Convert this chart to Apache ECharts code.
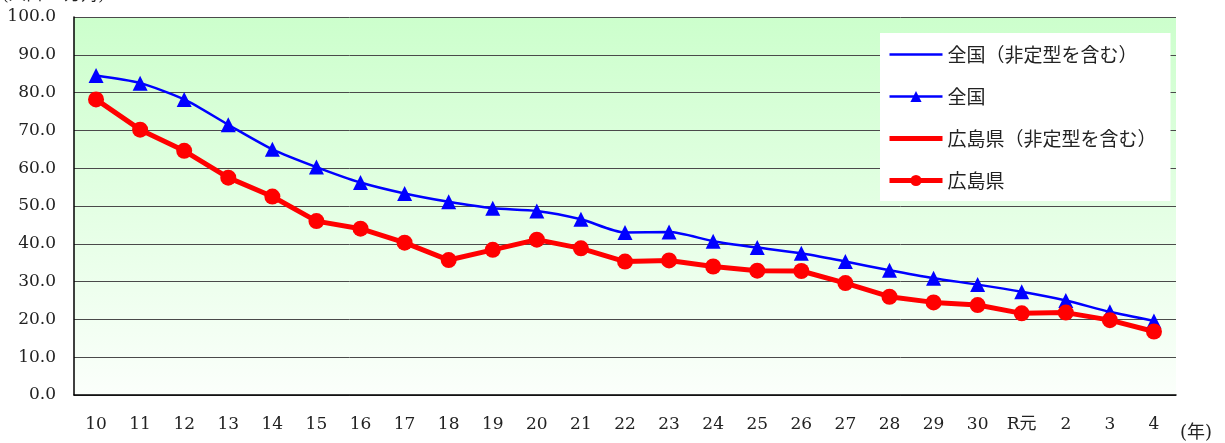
<!DOCTYPE html>
<html>
<head>
<meta charset="utf-8">
<script src="https://cdn.jsdelivr.net/npm/echarts@6/dist/echarts.min.js"></script>
<style>
  html, body { margin: 0; padding: 0; background: #fff; }
  #main { width: 1225px; height: 443px; }
</style>
</head>
<body>
<div id="main"></div>
<script>
  // 年 (平成10年〜令和4年)
  var years = ['10','11','12','13','14','15','16','17','18','19','20','21','22','23','24','25','26','27','28','29','30','R元','2','3','4'];
  var zenkoku = [84.5,82.5,78.2,71.5,65.0,60.3,56.2,53.3,51.1,49.4,48.7,46.5,43.0,43.1,40.7,39.0,37.5,35.3,33.0,30.9,29.2,27.3,25.0,22.0,19.6];
  var hiroshima = [78.2,70.2,64.6,57.5,52.5,46.0,44.0,40.3,35.7,38.4,41.1,38.8,35.3,35.6,34.0,32.9,32.8,29.6,26.0,24.5,23.8,21.6,21.8,19.8,16.8];
  // 非定型を含む系列は図中に線が見えないので空
  var zenkokuAll = [];
  var hiroshimaAll = [];

  var fontFam = '"DejaVu Serif", "Noto Sans CJK JP", serif';
  var myChart = echarts.init(document.getElementById('main'));
  var option = {
    animation: false,
    textStyle: { fontFamily: fontFam },
    graphic: [{
      type: 'text',
      left: 2,
      top: -13,
      style: { text: '(人口10万対)', fontSize: 17, fill: '#222', fontFamily: fontFam }
    }, {
      type: 'text',
      left: 1180,
      top: 424,
      style: { text: '(年)', fontSize: 18, fill: '#222', fontFamily: fontFam }
    }],
    grid: {
      left: 74, right: 49, top: 17, bottom: 48,
      show: true,
      borderWidth: 0,
      backgroundColor: new echarts.graphic.LinearGradient(0, 0, 0, 1, [
        { offset: 0, color: '#ccffcc' },
        { offset: 1, color: '#fbfffb' }
      ])
    },
    legend: {
      orient: 'vertical',
      left: 880,
      top: 33,
      backgroundColor: '#fff',
      padding: [12, 14, 11, 7],
      itemGap: 23,
      itemWidth: 53,
      itemHeight: 14,
      textStyle: { fontSize: 19, color: '#222', fontFamily: '"Noto Sans CJK JP", sans-serif' },
      data: [
        { name: '全国（非定型を含む）', icon: 'path://M0 0 H53 V2.5 H0 Z', itemStyle: { color: '#0000ff' } },
        { name: '全国', lineStyle: { width: 2.5 } },
        { name: '広島県（非定型を含む）', icon: 'path://M0 0 H53 V5 H0 Z', itemStyle: { color: '#ff0000' } },
        { name: '広島県', lineStyle: { width: 5 } }
      ]
    },
    xAxis: {
      type: 'category',
      data: years,
      boundaryGap: true,
      axisLine: { lineStyle: { color: '#000', width: 1.5 } },
      axisTick: { inside: true, length: 5, lineStyle: { color: '#000' } },
      axisLabel: { color: '#222', fontSize: 17, margin: 21, fontFamily: fontFam },
      splitLine: { show: false }
    },
    yAxis: {
      type: 'value',
      min: 0,
      max: 100,
      interval: 10,
      axisLine: { show: true, lineStyle: { color: '#000', width: 1.5 } },
      axisTick: { show: false },
      axisLabel: {
        color: '#222', fontSize: 17, margin: 18, fontFamily: fontFam,
        formatter: function (v) { return v.toFixed(1); }
      },
      splitLine: { show: true, lineStyle: { color: '#4a4a4a', width: 1 } }
    },
    series: [{
      name: '全国（非定型を含む）',
      type: 'line',
      data: zenkokuAll,
      symbol: 'none',
      itemStyle: { color: '#0000ff' },
      lineStyle: { color: '#0000ff', width: 2 }
    }, {
      name: '全国',
      type: 'line',
      data: zenkoku,
      smooth: 0.25,
      symbol: 'triangle',
      symbolSize: 15,
      itemStyle: { color: '#0000ff' },
      lineStyle: { color: '#0000ff', width: 2.5 }
    }, {
      name: '広島県（非定型を含む）',
      type: 'line',
      data: hiroshimaAll,
      symbol: 'none',
      itemStyle: { color: '#ff0000' },
      lineStyle: { color: '#ff0000', width: 5 }
    }, {
      name: '広島県',
      type: 'line',
      data: hiroshima,
      symbol: 'circle',
      symbolSize: 16,
      itemStyle: { color: '#ff0000' },
      lineStyle: { color: '#ff0000', width: 5 }
    }]
  };
  myChart.setOption(option);
</script>
</body>
</html>
